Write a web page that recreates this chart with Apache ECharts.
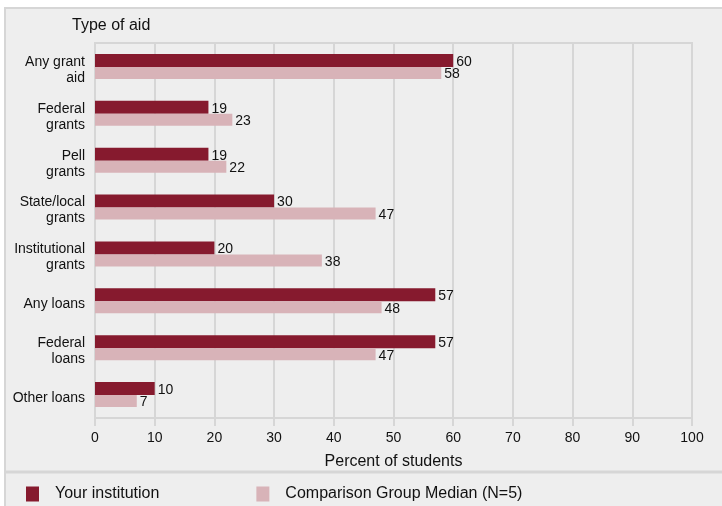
<!DOCTYPE html>
<html><head><meta charset="utf-8">
<script src="https://cdn.jsdelivr.net/npm/echarts@6/dist/echarts.min.js"></script>
<style>html,body{margin:0;padding:0;background:#fff}#c{width:722px;height:506px}</style>
</head><body><div id="c"></div>
<script>
const categories = ['Any grant\naid','Federal\ngrants','Pell\ngrants','State/local\ngrants','Institutional\ngrants','Any loans','Federal\nloans','Other loans'];
const yourInstitution = [60,19,19,30,20,57,57,10];
const comparisonMedian = [58,23,22,47,38,48,47,7];
const xTicks = [0,10,20,30,40,50,60,70,80,90,100];

const FONT = 'Liberation Sans, Arial, sans-serif';
const chart = echarts.init(document.getElementById('c'));
chart.setOption({
  animation:false,
  textStyle:{fontFamily:FONT},
  graphic:[
    {type:'rect',z:-10,silent:true,shape:{x:5,y:8,width:722,height:506},style:{fill:'#eeeeee',stroke:'#d6d6d6',lineWidth:2}},
    {type:'line',z:-5,silent:true,shape:{x1:5,y1:472,x2:722,y2:472},style:{stroke:'#d6d6d6',lineWidth:3}},
    {type:'text',left:72,top:18,style:{text:'Type of aid',font:'16px '+FONT,fill:'#111'}}
  ],
  grid:{left:95,right:30,top:43,bottom:88,show:true,borderColor:'#d6d6d6',borderWidth:2,backgroundColor:'transparent'},
  legend:{
    left:21,top:481,itemWidth:13,itemHeight:15,itemGap:97,icon:'rect',
    textStyle:{fontSize:16,color:'#111',padding:[0,0,0,11],fontFamily:FONT},
    data:['Your institution','Comparison Group Median (N=5)']
  },
  xAxis:{
    type:'value',min:0,max:100,interval:10,
    name:'Percent of students',nameLocation:'middle',nameGap:36,
    nameTextStyle:{fontSize:16,color:'#111'},
    axisLine:{show:true,lineStyle:{color:'#d6d6d6',width:2}},
    axisTick:{show:true,length:8,lineStyle:{color:'#d6d6d6',width:2}},
    axisLabel:{fontSize:14,color:'#111',margin:13,formatter:v=>xTicks.includes(v)?String(v):''},
    splitLine:{show:true,lineStyle:{color:'#d6d6d6',width:2}}
  },
  yAxis:{
    type:'category',data:categories,inverse:true,
    axisLine:{show:true,lineStyle:{color:'#d6d6d6',width:2}},
    axisTick:{show:false},
    axisLabel:{fontSize:14,color:'#111',margin:10,lineHeight:16,align:'right',
      formatter:v=>'{s| }\n'+v,
      rich:{s:{fontSize:1,lineHeight:7}}}
  },
  series:[
    {name:'Your institution',type:'bar',data:yourInstitution,barWidth:13,barGap:'0%',
     itemStyle:{color:'#861a2e'},
     label:{show:true,position:'right',distance:3,offset:[0,1.5],fontSize:14,color:'#111'}},
    {name:'Comparison Group Median (N=5)',type:'bar',data:comparisonMedian,barWidth:12,barGap:'0%',
     itemStyle:{color:'#d8b3b8'},
     label:{show:true,position:'right',distance:3,offset:[0,1.5],fontSize:14,color:'#111'}}
  ]
});
</script></body></html>
